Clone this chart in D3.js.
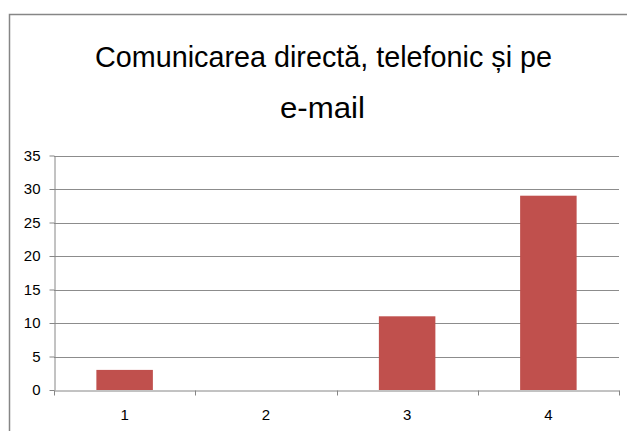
<!DOCTYPE html>
<html><head><meta charset="utf-8">
<script src="https://cdn.jsdelivr.net/npm/d3@7"></script>
<style>html,body{margin:0;padding:0;background:#fff;}svg{display:block;}</style>
</head><body>
<svg id="c" width="627" height="431"></svg>
<script>
const categories = ["1", "2", "3", "4"];
const values = [3, 0, 11, 29];
const yTicks = [0, 5, 10, 15, 20, 25, 30, 35];
const titleLines = ["Comunicarea directă, telefonic și pe", "e-mail"];

const svg = d3.select("#c");
const pLeft = 54, pRight = 619, pTop = 155.5, pBottom = 390;

svg.append("rect").attr("x", 9.5).attr("y", 14.5).attr("width", 630).attr("height", 440)
  .attr("fill", "#fff").attr("stroke", "#868686").attr("stroke-width", 1.5);

const x = d3.scaleBand().domain(categories).range([pLeft, pRight]).padding(0);
const y = d3.scaleLinear().domain([0, 35]).range([pBottom, pTop]);

// gridlines
svg.append("g").selectAll("line").data(yTicks.filter(d => d > 0)).join("line")
  .attr("x1", pLeft).attr("x2", pRight)
  .attr("y1", d => Math.round(y(d)) + 0.5).attr("y2", d => Math.round(y(d)) + 0.5)
  .attr("stroke", "#8c8c8c").attr("stroke-width", 1);

// bars
const bw = x.bandwidth() / 2.5;
svg.append("g").selectAll("rect").data(values).join("rect")
  .attr("x", (d, i) => x(categories[i]) + (x.bandwidth() - bw) / 2)
  .attr("width", bw)
  .attr("y", d => y(d))
  .attr("height", d => pBottom - y(d))
  .attr("fill", "#C0504D");

// y axis
const ya = svg.append("g").attr("transform", `translate(${pLeft + 0.5},0)`)
  .call(d3.axisLeft(y).tickValues(yTicks).tickSize(5).tickPadding(9).tickSizeOuter(0));
ya.select(".domain").attr("stroke", "#868686");
ya.selectAll(".tick line").attr("stroke", "#868686");
ya.selectAll(".tick text").attr("font-family", "'Liberation Sans', Arial, sans-serif")
  .attr("font-size", 15).attr("fill", "#000");

// x axis
const xa = svg.append("g").attr("transform", `translate(0,${pBottom + 0.5})`)
  .call(d3.axisBottom(x).tickSize(0).tickPadding(19).tickSizeOuter(0));
xa.select(".domain").attr("stroke", "#868686");
xa.selectAll(".tick text").attr("font-family", "'Liberation Sans', Arial, sans-serif")
  .attr("font-size", 15).attr("fill", "#000");
const bounds = categories.map(c => x(c)).concat([pRight]);
xa.append("g").selectAll("line").data(bounds).join("line")
  .attr("x1", d => Math.round(d) + 0.5).attr("x2", d => Math.round(d) + 0.5)
  .attr("y1", 0).attr("y2", 5).attr("stroke", "#868686");

// title
const tl = [[323.5, 67, 457], [322.5, 118, 85]];
svg.append("g").selectAll("text").data(titleLines).join("text")
  .attr("x", (d, i) => tl[i][0]).attr("y", (d, i) => tl[i][1])
  .attr("text-anchor", "middle")
  .attr("font-family", "'Liberation Sans Narrow', 'Liberation Sans', Arial, sans-serif")
  .attr("font-size", 29).attr("fill", "#000")
  .attr("textLength", (d, i) => tl[i][2]).attr("lengthAdjust", "spacingAndGlyphs")
  .text(d => d);
</script>
</body></html>
